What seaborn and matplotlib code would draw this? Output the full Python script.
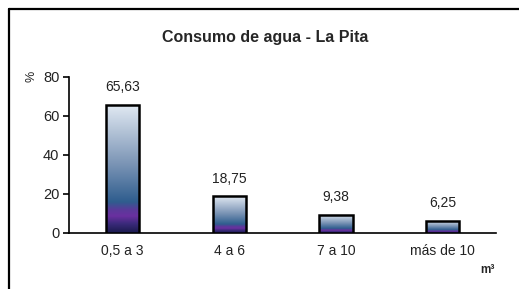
import matplotlib
matplotlib.use("Agg")
import matplotlib.pyplot as plt
import matplotlib.colors as mcolors
import seaborn as sns
import numpy as np
import pandas as pd

# Data
categories = ["0,5 a 3", "4 a 6", "7 a 10", "más de 10"]
values = [65.63, 18.75, 9.38, 6.25]
value_labels = ["65,63", "18,75", "9,38", "6,25"]
y_ticks = [0, 20, 40, 60, 80]

sns.set_theme(style="white")
plt.rcParams['font.family'] = ['Liberation Sans', 'DejaVu Sans']

df = pd.DataFrame({"rango": categories, "pct": values})

fig = plt.figure(figsize=(5.19, 2.89), dpi=100)
ax = fig.add_axes([0.133, 0.194, 0.823, 0.54])

sns.barplot(data=df, x="rango", y="pct", ax=ax, width=0.31,
            color="white", edgecolor="black", linewidth=1.8, zorder=3)

# vertical gradient inside each bar: light top -> blue -> purple -> navy bottom
grad_cmap = mcolors.LinearSegmentedColormap.from_list(
    "bar_grad",
    [(0.0, "#1a1a4e"), (0.07, "#3a2a7a"), (0.13, "#6a30a0"),
     (0.18, "#5a3a9a"), (0.24, "#2f5d8e"), (0.55, "#7e97b7"), (1.0, "#e2eaf3")])
grad = np.linspace(0, 1, 256).reshape(-1, 1)
for patch in ax.patches:
    x0, y0 = patch.get_x(), patch.get_y()
    w, h = patch.get_width(), patch.get_height()
    im = ax.imshow(grad, cmap=grad_cmap, origin="lower", aspect="auto",
                   extent=[x0, x0 + w, y0, y0 + h], zorder=3.5)
    im.set_clip_path(patch)
    patch.set_facecolor("none")
    patch.set_zorder(4)

for i, (v, lab) in enumerate(zip(values, value_labels)):
    ax.text(i, v + 5.5, lab, ha="center", va="bottom", fontsize=10, color="#222222")

ax.set_xlim(-0.5, 3.5)
ax.set_ylim(0, 80)
ax.set_yticks(y_ticks)
ax.set_xlabel("")
ax.set_ylabel("")
ax.tick_params(axis="y", labelsize=10.5, length=4, width=1.2, direction="out",
               left=True, pad=3, colors="black")
ax.tick_params(axis="x", labelsize=10, length=0, pad=8)
for lbl in ax.get_yticklabels() + ax.get_xticklabels():
    lbl.set_color("#222222")
for s in ["top", "right"]:
    ax.spines[s].set_visible(False)
for s in ["left", "bottom"]:
    ax.spines[s].set_color("black")
    ax.spines[s].set_linewidth(1.2)

fig.text(0.51, 0.87, "Consumo de agua - La Pita", ha="center", va="center",
         fontsize=11.5, fontweight="bold")
fig.text(0.06, 0.735, "%", ha="center", va="center", rotation=90, fontsize=9,
         color="#222222")
fig.text(0.94, 0.066, "m³", ha="center", va="center", fontsize=8.5,
         fontweight="bold")

# outer frame (left and top edges)
fig.add_artist(plt.Line2D([0.018, 0.018], [0.0, 0.968], color="black",
                          linewidth=1.6, transform=fig.transFigure))
fig.add_artist(plt.Line2D([0.018, 1.0], [0.968, 0.968], color="black",
                          linewidth=1.6, transform=fig.transFigure))

fig.savefig("out.png", dpi=100)
